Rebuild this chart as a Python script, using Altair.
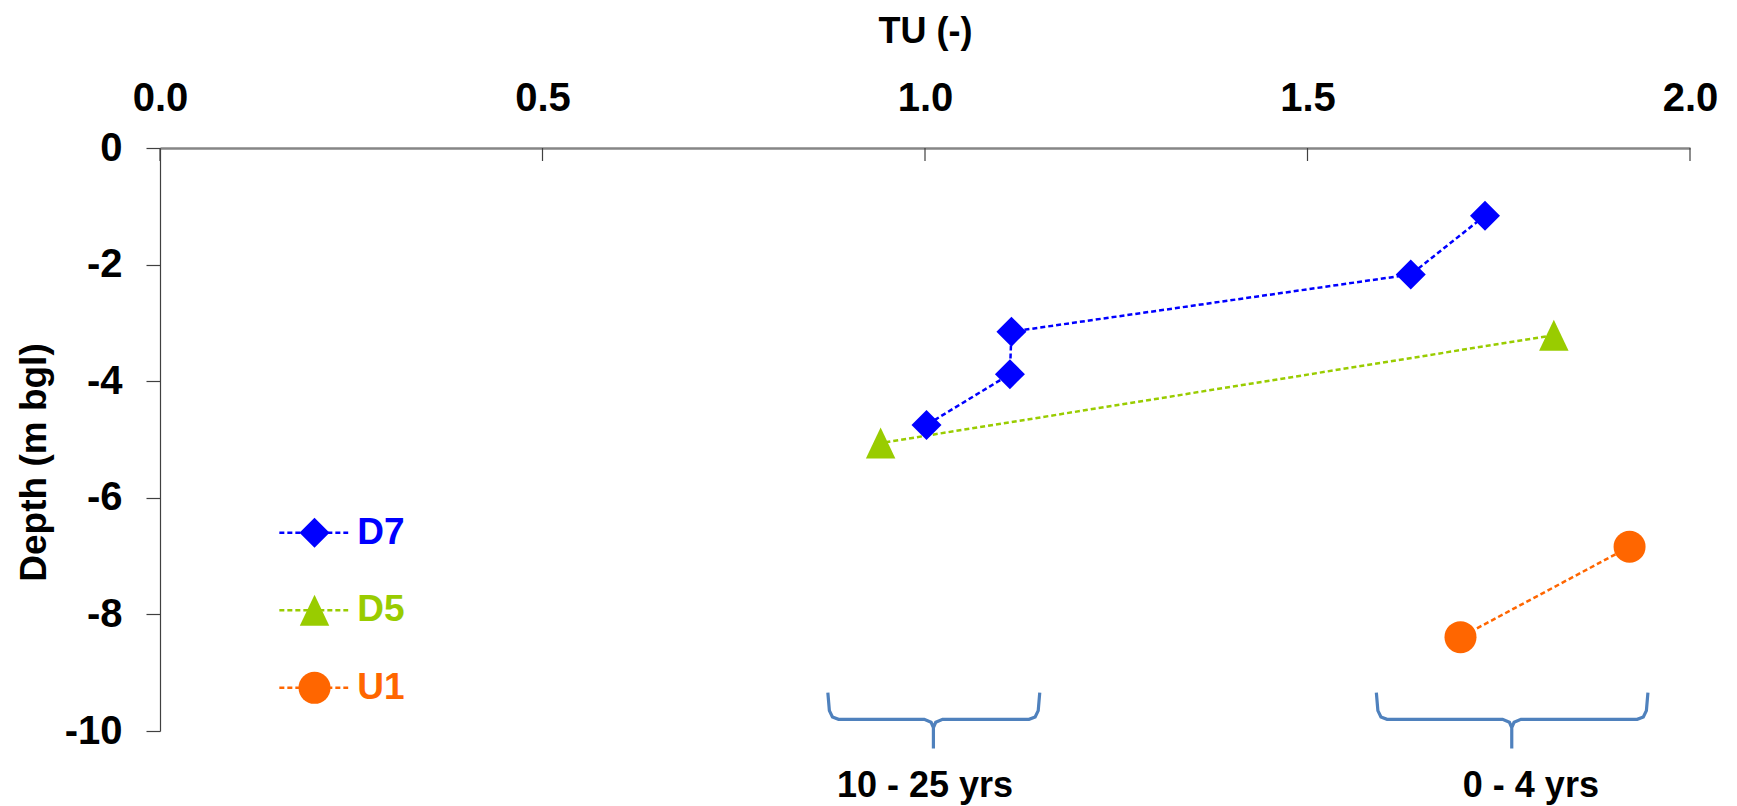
import altair as alt
import pandas as pd

# ---- data ----
series = ["D7", "D5", "U1"]
series_colors = ["#0000FF", "#99CC00", "#FF6600"]

d7_tu = [1.732, 1.635, 1.113, 1.111, 1.002]
d7_depth = [-1.16, -2.17, -3.15, -3.88, -4.75]
d5_tu = [1.822, 0.942]
d5_depth = [-3.21, -5.06]
u1_tu = [1.921, 1.700]
u1_depth = [-6.84, -8.39]

x_ticks = [0.0, 0.5, 1.0, 1.5, 2.0]
y_ticks = [0, -2, -4, -6, -8, -10]

brace_left = [0.873, 1.590]
brace_right = [1.150, 1.945]
brace_mid = [1.011, 1.767]
brace_labels = ["10 - 25 yrs", "0 - 4 yrs"]
brace_label_x = [1.000, 1.792]

# ---- layout / style constants ----
FONT = "Liberation Sans"
TRI = "M0,-1L-0.95,1L0.95,1Z"
shapes = ["diamond", TRI, "circle"]
sizes = [900, 1024, 841]

BR_TOP, BR_H, BR_TIP, BR_LABEL = -9.34, -9.80, -10.30, -10.94
LEG_X0, LEG_X1, LEG_XM, LEG_XT = 0.156, 0.246, 0.202, 0.258
LEG_Y0, LEG_DY = -6.60, -1.33

# ---- tables ----
rows = []
for name, xs, ys in [("D7", d7_tu, d7_depth), ("D5", d5_tu, d5_depth), ("U1", u1_tu, u1_depth)]:
    for i, (xv, yv) in enumerate(zip(xs, ys)):
        rows.append({"series": name, "idx": i, "tu": xv, "depth": yv})
df = pd.DataFrame(rows)

leg_df = pd.DataFrame({
    "series": series,
    "y": [LEG_Y0 + LEG_DY * i for i in range(len(series))],
    "x0": [LEG_X0] * len(series),
    "x1": [LEG_X1] * len(series),
    "xm": [LEG_XM] * len(series),
    "xt": [LEG_XT] * len(series),
})

brows = []
for b, (xl, xr, xc) in enumerate(zip(brace_left, brace_right, brace_mid)):
    pts = [
        (xl, BR_TOP), (xl + 0.002, BR_H + 0.15), (xl + 0.006, BR_H + 0.04), (xl + 0.014, BR_H),
        (xc - 0.012, BR_H), (xc - 0.003, BR_H - 0.05), (xc, BR_H - 0.14), (xc, BR_TIP),
        (xc, BR_H - 0.14), (xc + 0.003, BR_H - 0.05), (xc + 0.012, BR_H),
        (xr - 0.014, BR_H), (xr - 0.006, BR_H + 0.04), (xr - 0.002, BR_H + 0.15), (xr, BR_TOP),
    ]
    for k, (xv, yv) in enumerate(pts):
        brows.append({"b": b, "k": k, "tu": xv, "depth": yv})
brace_df = pd.DataFrame(brows)
blabel_df = pd.DataFrame({"label": brace_labels, "tu": brace_label_x, "depth": [BR_LABEL] * len(brace_labels)})
tick_df = pd.DataFrame({"tu": x_ticks})

# ---- scales & axes ----
x_scale = alt.Scale(domain=[0, 2], nice=False, zero=False)
y_scale = alt.Scale(domain=[-10, 0], nice=False, zero=False)
color_scale = alt.Scale(domain=series, range=series_colors)
shape_scale = alt.Scale(domain=series, range=shapes)
size_scale = alt.Scale(domain=series, range=sizes)

x_axis = alt.Axis(
    orient="top", values=x_ticks, format=".1f", ticks=False, grid=False,
    labelFont=FONT, labelFontSize=40, labelFontWeight="bold", labelColor="black",
    labelPadding=30, labelFlush=False,
    domainColor="#868686", domainWidth=2.5,
    title="TU (-)", titleFont=FONT, titleFontSize=36, titleFontWeight="bold",
    titleColor="black", titleX=765, titleY=-106, titleBaseline="alphabetic", titleAlign="center",
)
y_axis = alt.Axis(
    orient="left", values=y_ticks, grid=False, ticks=True, tickSize=14,
    tickColor="#404040", tickWidth=1.2, domainColor="#404040", domainWidth=1.2,
    labelFont=FONT, labelFontSize=40, labelFontWeight="bold", labelColor="black",
    labelPadding=24, labelFlush=False,
    labelExpr="datum.value == 0 ? '0' : '-' + format(abs(datum.value), 'd')",
    title="Depth (m bgl)", titleFont=FONT, titleFontSize=37, titleFontWeight="bold",
    titleColor="black", titleX=-126, titleY=314, titleBaseline="middle",
    titleAlign="center", titleAngle=270,
)

X = lambda f: alt.X(f, type="quantitative", scale=x_scale, axis=x_axis)
Y = lambda f: alt.Y(f, type="quantitative", scale=y_scale, axis=y_axis)

lines = alt.Chart(df).mark_line(strokeDash=[5, 3], strokeWidth=2.5).encode(
    x=X("tu"), y=Y("depth"),
    color=alt.Color("series:N", scale=color_scale, legend=None),
    detail="series:N",
    order=alt.Order("idx:Q"),
)
points = alt.Chart(df).mark_point(filled=True, opacity=1, strokeWidth=0).encode(
    x=X("tu"), y=Y("depth"),
    color=alt.Color("series:N", scale=color_scale, legend=None),
    shape=alt.Shape("series:N", scale=shape_scale, legend=None),
    size=alt.Size("series:N", scale=size_scale, legend=None),
)
xticks = alt.Chart(tick_df).mark_rule(color="#404040", strokeWidth=1.2).encode(
    x=X("tu"), y=alt.value(0), y2=alt.value(13)
)

leg_line = alt.Chart(leg_df).mark_rule(strokeDash=[5, 3], strokeWidth=2.5).encode(
    x=X("x0"), x2="x1:Q", y=Y("y"),
    color=alt.Color("series:N", scale=color_scale, legend=None),
)
leg_pt = alt.Chart(leg_df).mark_point(filled=True, opacity=1, strokeWidth=0).encode(
    x=X("xm"), y=Y("y"),
    color=alt.Color("series:N", scale=color_scale, legend=None),
    shape=alt.Shape("series:N", scale=shape_scale, legend=None),
    size=alt.Size("series:N", scale=size_scale, legend=None),
)
leg_txt = alt.Chart(leg_df).mark_text(
    align="left", baseline="middle", font=FONT, fontSize=37, fontWeight="bold"
).encode(
    x=X("xt"), y=Y("y"), text="series:N",
    color=alt.Color("series:N", scale=color_scale, legend=None),
)

braces = alt.Chart(brace_df).mark_line(color="#4F81BD", strokeWidth=3.2).encode(
    x=X("tu"), y=Y("depth"), detail="b:N", order=alt.Order("k:Q")
)
brace_txt = alt.Chart(blabel_df).mark_text(
    align="center", baseline="middle", font=FONT, fontSize=36, fontWeight="bold", color="black"
).encode(x=X("tu"), y=Y("depth"), text="label:N")

chart = alt.layer(
    xticks, braces, brace_txt, lines, points, leg_line, leg_pt, leg_txt
).properties(
    width=1530, height=583,
    padding={"left": 160, "top": 148, "right": 47, "bottom": 75},
    autosize=alt.AutoSizeParams(type="none"),
    background="white",
).configure_view(stroke=None)

chart.save("out.html", embed_options={"renderer": "svg", "actions": False})
